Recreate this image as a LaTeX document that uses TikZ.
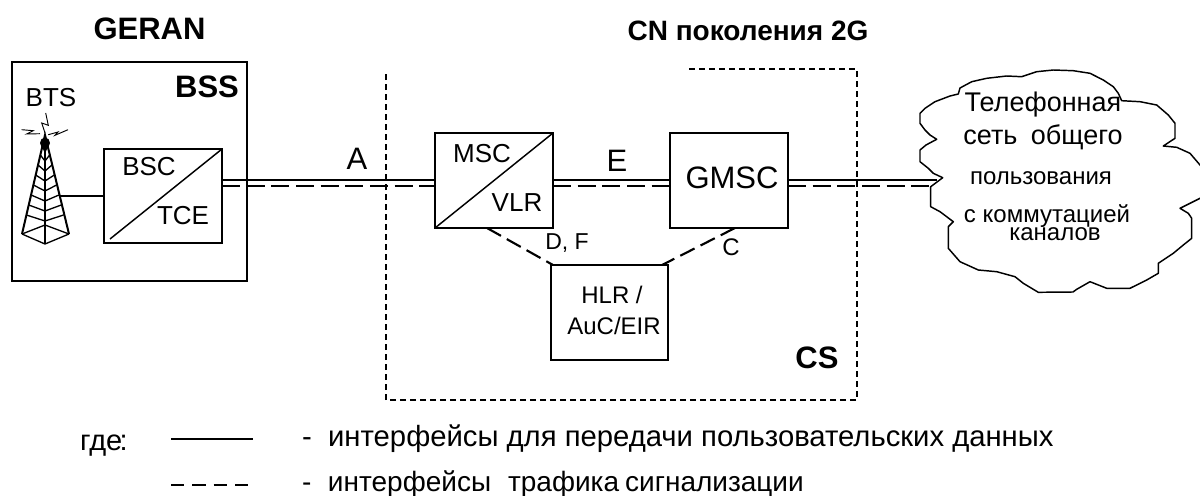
\documentclass[tikz,border=0pt]{standalone}
\usepackage{fontspec}
\setmainfont{Liberation Sans}
\newcommand{\pxfont}[1]{\fontsize{\dimexpr#1pt*3/4\relax}{\dimexpr#1pt*9/10\relax}\selectfont}
\tikzset{
  x=0.75pt,y=-0.75pt,
  txt/.style={inner sep=0pt,outer sep=0pt,text=black},
  blk/.style={draw=black,line width=1.1pt,fill=white,inner sep=0pt,outer sep=0pt,rectangle},
  bus/.style={draw=black,line width=1.1pt},
  sig/.style={draw=black,line width=2.1pt,dash pattern=on 13.5pt off 5pt},
  sigb/.style={draw=black,line width=1.6pt,dash pattern=on 12pt off 5pt},
  frame/.style={draw=black,line width=0.9pt,dash pattern=on 4.5pt off 3pt},
  fine/.style={draw=black,line width=1pt,line join=miter},
  bolt/.style={draw=black,line width=0.7pt,line join=miter},
  cloudline/.style={draw=black,line width=1.1pt,fill=white,line join=round},
}
\begin{document}
\begin{tikzpicture}
\useasboundingbox (0,0) rectangle (1200,496);
\clip (0,0) rectangle (1200,496);
\coordinate (lineS) at (0,180);
\coordinate (lineD) at (0,186);
% frame
\draw[frame] (689,69) -- (857,69) -- (857,400) -- (386,400) -- (386,70);
% boxes
\node[blk,minimum width=235pt*0.75,minimum height=219pt*0.75,anchor=north west] (bss) at (12,62) {};
\node[blk,minimum width=118pt*0.75,minimum height=94pt*0.75,anchor=north west] (bsc) at (104,149) {};
\node[blk,minimum width=118pt*0.75,minimum height=95pt*0.75,anchor=north west] (msc) at (435,133) {};
\node[blk,minimum width=118pt*0.75,minimum height=95pt*0.75,anchor=north west] (gmsc) at (670,133) {};
\node[blk,minimum width=117pt*0.75,minimum height=95pt*0.75,anchor=north west] (hlr) at (551,265) {};
% cloud
\draw[cloudline] (942.7,177.7) -- (933.3,173.3) -- (928.3,168.3) -- (920,161.7) -- (920,150) -- (926,145) -- (936.7,139.3) -- (930,135) -- (925,130) -- (920,123.3) -- (920,113.3) -- (925,108.3) -- (935,101.7) -- (950,96) -- (958.3,94) -- (960,88) -- (971.7,81.7) -- (986.7,78.3) -- (1006.7,76) -- (1021.7,76.7) -- (1036.7,71.7) -- (1053.3,70) -- (1073.3,70.7) -- (1090,73.3) -- (1103.3,80) -- (1113.3,86.7) -- (1118.3,93.3) -- (1121.7,100.7) -- (1140,101.7) -- (1156.7,105) -- (1168.3,115) -- (1175,123.3) -- (1175,138.3) -- (1163.3,146) -- (1176.7,147.3) -- (1190,153.3) -- (1200,165) -- (1210,175) -- (1210,190) -- (1200,198.3) -- (1180,208.3) -- (1188.3,213.3) -- (1191.7,218.3) -- (1191.7,238.3) -- (1183.3,245) -- (1173.3,253.3) -- (1158.3,263.3) -- (1158.3,273.3) -- (1146.7,280) -- (1130,288.3) -- (1106.7,288.3) -- (1090,281.7) -- (1076.7,289.3) -- (1073,292) -- (1038.3,292.3) -- (1023.3,283.3) -- (1015,276.7) -- (996.7,271.7) -- (978.3,270) -- (960,261.7) -- (948.3,248.3) -- (948.3,226.7) -- (953.3,221.7) -- (940,211.7) -- (930.7,206.7) -- (930.7,186.7) -- cycle;
\coordinate (cloudS) at (937,180);
\coordinate (cloudD) at (933,186);
% connectors
\draw[bus] (bsc.east |- lineS) -- (msc.west |- lineS);
\draw[sig] (bsc.east |- lineD) -- (msc.west |- lineD);
\draw[bus] (msc.east |- lineS) -- (gmsc.west |- lineS);
\draw[sig] (msc.east |- lineD) -- (gmsc.west |- lineD);
\draw[bus] (gmsc.east |- lineS) -- (cloudS);
\draw[sig] (gmsc.east |- lineD) -- (cloudD);
\coordinate (msclow) at (487,228);
\coordinate (gmsclow) at (735,228);
\coordinate (hlrl) at (553,265);
\coordinate (hlrr) at (662,265);
\draw[sigb] (msclow) -- (hlrl);
\draw[sigb] (gmsclow) -- (hlrr);
% diagonals
\draw[bus] (110,239) -- (bsc.north east);
\draw[bus] (msc.south west) -- (msc.north east);
% tower
\coordinate (ta) at (45,135);
\coordinate (tl) at (22,234);
\coordinate (tr) at (69,234);
\coordinate (tb) at (45,244);
\draw[fine,line width=1.5pt] (tl) -- (ta) -- (tr);
\draw[fine] (tl) -- (tb) -- (tr);
\draw[fine] (ta) -- (tb);
\foreach \y in {146,155,165,175,185,195,205,215}{
  \pgfmathsetmacro{\dx}{23*(\y-135)/99}
  \draw[fine] (45-\dx,\y) -- (45,\y+6) -- (45+\dx,\y);
}
\draw[fine] (tl) -- (45,225) -- (tr);
\fill (45,143) ellipse[x radius=5,y radius=5.5];
\draw[bolt] (45,133) -- (41.7,123) -- (48.3,125.3) -- (45.7,113);
\draw[bolt] (21.7,129.7) -- (33.3,130.7) -- (26.7,134) -- (40,133.7);
\draw[bolt] (48.3,134.7) -- (58,132) -- (55,135.3) -- (68,129.7);
\coordinate (tfoot) at (60,196);
\draw[bus] (tfoot) -- (bsc.west |- tfoot);
% labels
\node[txt,font=\bfseries\pxfont{31}] (tgeran) at (149.5,29) {GERAN};
\node[txt,font=\bfseries\pxfont{28}] (tcn) at (748,31) {CN поколения 2G};
\node[txt,font=\bfseries\pxfont{31}] (tbss) at (207,87) {BSS};
\node[txt,font=\pxfont{26}] (tbts) at (51,98) {BTS};
\node[txt,font=\pxfont{26}] (tbsc) at (149,167) {BSC};
\node[txt,font=\pxfont{26}] (ttce) at (183,216) {TCE};
\node[txt,font=\pxfont{31}] (ta1) at (357,159) {A};
\node[txt,font=\pxfont{26}] (tmsc) at (482,154) {MSC};
\node[txt,font=\pxfont{26}] (tvlr) at (517,203) {VLR};
\node[txt,font=\pxfont{31}] (te) at (617,161) {E};
\node[txt,font=\pxfont{31}] (tgm) at (732,178) {GMSC};
\node[txt,font=\pxfont{23}] (tdf) at (567,243) {D, F};
\node[txt,font=\pxfont{24}] (tc) at (731,247) {C};
\node[txt,font=\pxfont{24}] (thlr) at (612,295) {HLR /};
\node[txt,font=\pxfont{24}] (tauc) at (614,326) {AuC/EIR};
\node[txt,font=\bfseries\pxfont{31}] (tcs) at (817,358) {CS};
\node[txt,font=\pxfont{27}] (c1) at (1043,105) {Телефонная};
\node[txt,font=\pxfont{27}] (c2) at (1043,137) {сеть\hspace*{10pt}общего};
\node[txt,font=\pxfont{24}] (c3) at (1041,178) {пользования};
\node[txt,font=\pxfont{24}] (c4) at (1047,216) {с коммутацией};
\node[txt,font=\pxfont{24}] (c5) at (1055,234) {каналов};
% legend
\node[txt,font=\pxfont{29},anchor=base west] (lgde) at (80,450) {где\kern-2pt:};
\coordinate (l1a) at (171,439);
\coordinate (l1b) at (253,439);
\coordinate (l2a) at (171,485);
\coordinate (l2b) at (253,485);
\draw[draw=black,line width=1pt] (l1a) -- (l1b);
\draw[draw=black,line width=1pt,dash pattern=on 10pt off 6pt] (l2a) -- (l2b);
\node[txt,font=\pxfont{29.25},anchor=base west] (l1) at (302,446.5) {-\hspace*{12.3pt}интерфейсы для передачи пользовательских данных};
\node[txt,font=\pxfont{28},anchor=base west] (l2) at (302,491) {-\hspace*{12.5pt}интерфейсы\hspace*{12.7pt}трафика\hspace*{4.5pt}сигнализации};
\end{tikzpicture}
\end{document}
